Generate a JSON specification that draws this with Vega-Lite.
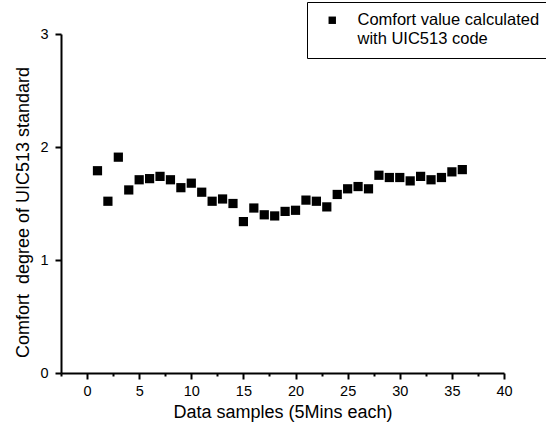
{
  "$schema": "https://vega.github.io/schema/vega-lite/v6.json",
  "width": 443,
  "height": 339,
  "autosize": "none",
  "padding": {"left": 61, "top": 34, "right": 42, "bottom": 58},
  "background": "white",
  "config": {
    "view": {"stroke": null},
    "font": "Liberation Sans",
    "axis": {
      "domainColor": "black",
      "domainWidth": 2,
      "tickColor": "black",
      "tickWidth": 2,
      "grid": false,
      "labelColor": "black",
      "titleColor": "black",
      "labelFont": "Liberation Sans",
      "titleFont": "Liberation Sans",
      "labelFontSize": 14.5,
      "titleFontSize": 18,
      "titleFontWeight": "normal"
    }
  },
  "data": {
    "values": [
      {"sample": 1, "comfort": 1.79, "series": "Comfort value calculated| with UIC513 code"},
      {"sample": 2, "comfort": 1.52, "series": "Comfort value calculated| with UIC513 code"},
      {"sample": 3, "comfort": 1.91, "series": "Comfort value calculated| with UIC513 code"},
      {"sample": 4, "comfort": 1.62, "series": "Comfort value calculated| with UIC513 code"},
      {"sample": 5, "comfort": 1.71, "series": "Comfort value calculated| with UIC513 code"},
      {"sample": 6, "comfort": 1.72, "series": "Comfort value calculated| with UIC513 code"},
      {"sample": 7, "comfort": 1.74, "series": "Comfort value calculated| with UIC513 code"},
      {"sample": 8, "comfort": 1.71, "series": "Comfort value calculated| with UIC513 code"},
      {"sample": 9, "comfort": 1.64, "series": "Comfort value calculated| with UIC513 code"},
      {"sample": 10, "comfort": 1.68, "series": "Comfort value calculated| with UIC513 code"},
      {"sample": 11, "comfort": 1.6, "series": "Comfort value calculated| with UIC513 code"},
      {"sample": 12, "comfort": 1.52, "series": "Comfort value calculated| with UIC513 code"},
      {"sample": 13, "comfort": 1.54, "series": "Comfort value calculated| with UIC513 code"},
      {"sample": 14, "comfort": 1.5, "series": "Comfort value calculated| with UIC513 code"},
      {"sample": 15, "comfort": 1.34, "series": "Comfort value calculated| with UIC513 code"},
      {"sample": 16, "comfort": 1.46, "series": "Comfort value calculated| with UIC513 code"},
      {"sample": 17, "comfort": 1.4, "series": "Comfort value calculated| with UIC513 code"},
      {"sample": 18, "comfort": 1.39, "series": "Comfort value calculated| with UIC513 code"},
      {"sample": 19, "comfort": 1.43, "series": "Comfort value calculated| with UIC513 code"},
      {"sample": 20, "comfort": 1.44, "series": "Comfort value calculated| with UIC513 code"},
      {"sample": 21, "comfort": 1.53, "series": "Comfort value calculated| with UIC513 code"},
      {"sample": 22, "comfort": 1.52, "series": "Comfort value calculated| with UIC513 code"},
      {"sample": 23, "comfort": 1.47, "series": "Comfort value calculated| with UIC513 code"},
      {"sample": 24, "comfort": 1.58, "series": "Comfort value calculated| with UIC513 code"},
      {"sample": 25, "comfort": 1.63, "series": "Comfort value calculated| with UIC513 code"},
      {"sample": 26, "comfort": 1.65, "series": "Comfort value calculated| with UIC513 code"},
      {"sample": 27, "comfort": 1.63, "series": "Comfort value calculated| with UIC513 code"},
      {"sample": 28, "comfort": 1.75, "series": "Comfort value calculated| with UIC513 code"},
      {"sample": 29, "comfort": 1.73, "series": "Comfort value calculated| with UIC513 code"},
      {"sample": 30, "comfort": 1.73, "series": "Comfort value calculated| with UIC513 code"},
      {"sample": 31, "comfort": 1.7, "series": "Comfort value calculated| with UIC513 code"},
      {"sample": 32, "comfort": 1.74, "series": "Comfort value calculated| with UIC513 code"},
      {"sample": 33, "comfort": 1.71, "series": "Comfort value calculated| with UIC513 code"},
      {"sample": 34, "comfort": 1.73, "series": "Comfort value calculated| with UIC513 code"},
      {"sample": 35, "comfort": 1.78, "series": "Comfort value calculated| with UIC513 code"},
      {"sample": 36, "comfort": 1.8, "series": "Comfort value calculated| with UIC513 code"}
    ]
  },
  "mark": {"type": "point", "shape": "square", "filled": true, "opacity": 1, "size": 85},
  "encoding": {
    "x": {
      "field": "sample",
      "type": "quantitative",
      "scale": {"domain": [-2.5, 40], "nice": false, "zero": false},
      "axis": {
        "title": "Data samples (5Mins each)",
        "values": [-2.5, 0, 2.5, 5, 7.5, 10, 12.5, 15, 17.5, 20, 22.5, 25, 27.5, 30, 32.5, 35, 37.5, 40],
        "format": "d",
        "labelExpr": "floor(datum.value / 5) === datum.value / 5 ? datum.label : ''",
        "tickSize": {"condition": {"test": {"field": "value", "oneOf": [-2.5, 2.5, 7.5, 12.5, 17.5, 22.5, 27.5, 32.5, 37.5]}, "value": 3}, "value": 6},
        "labelPadding": 5,
        "titlePadding": 6,
        "labelFlush": false
      }
    },
    "y": {
      "field": "comfort",
      "type": "quantitative",
      "scale": {"domain": [0, 3], "nice": false},
      "axis": {
        "title": "Comfort\u00a0 degree of UIC513 standard",
        "values": [0, 0.5, 1, 1.5, 2, 2.5, 3],
        "format": "d",
        "labelExpr": "floor(datum.value) === datum.value ? datum.label : ''",
        "tickSize": {"condition": {"test": {"field": "value", "oneOf": [0.5, 1.5, 2.5]}, "value": 3}, "value": 6},
        "labelPadding": 7,
        "titlePadding": 7,
        "titleY": 178,
        "labelFlush": false
      }
    },
    "color": {
      "field": "series",
      "type": "nominal",
      "scale": {"range": ["black"]},
      "legend": {
        "title": null,
        "orient": "none",
        "legendX": 246,
        "legendY": -32,
        "strokeColor": "black",
        "fillColor": "white",
        "padding": 10,
        "symbolType": "square",
        "symbolSize": 55,
        "symbolStrokeWidth": 0,
        "symbolOffset": 7,
        "labelOffset": 17,
        "labelFontSize": 16.5,
        "labelFont": "Liberation Sans",
        "labelColor": "black",
        "labelLimit": 400,
        "labelExpr": "split(datum.label, '|')"
      }
    }
  }
}
